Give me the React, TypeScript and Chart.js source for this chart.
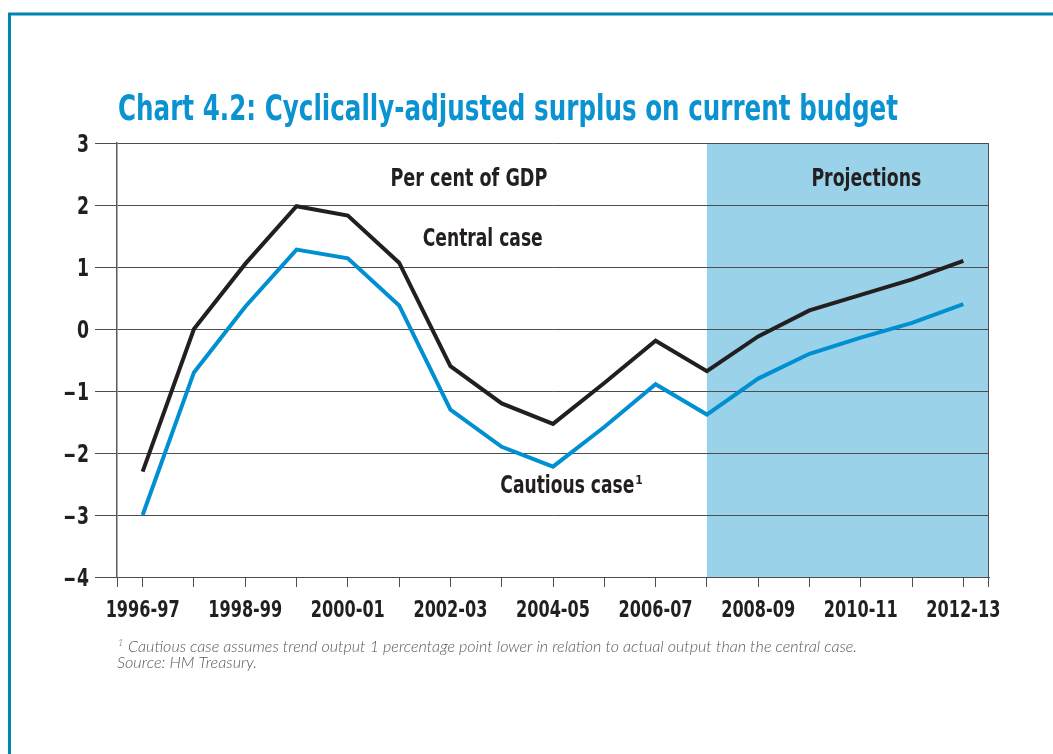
import React, { useEffect, useRef } from "react";
import { Chart, registerables } from "chart.js";

Chart.register(...registerables);

// ---- data ----
const categories = [
  "1996-97", "1997-98", "1998-99", "1999-00", "2000-01", "2001-02", "2002-03",
  "2003-04", "2004-05", "2005-06", "2006-07", "2007-08", "2008-09", "2009-10",
  "2010-11", "2011-12", "2012-13",
];
const centralCase = [-2.3, 0.0, 1.05, 1.98, 1.83, 1.07, -0.6, -1.2, -1.53, -0.87, -0.19, -0.68, -0.12, 0.3, 0.55, 0.8, 1.1];
const cautiousCase = [-3.0, -0.7, 0.36, 1.28, 1.14, 0.38, -1.3, -1.9, -2.22, -1.58, -0.89, -1.38, -0.8, -0.4, -0.14, 0.1, 0.4];
const yMin = -4;
const yMax = 3;
const projectionStart = "2007-08";

const titleText = "Chart 4.2: Cyclically-adjusted surplus on current budget";
const footnoteText = "Cautious case assumes trend output 1 percentage point lower in relation to actual output than the central case.";
const sourceText = "Source: HM Treasury.";

// annotation labels placed in data space (category index, value)
const annotations = [
  { text: "Per cent of GDP", idx: 6.36, val: 2.44, width: 157, sup: false },
  { text: "Central case", idx: 6.63, val: 1.47, width: 120, sup: false },
  { text: "Projections", idx: 14.11, val: 2.44, width: 110, sup: false },
  { text: "Cautious case", idx: 8.28, val: -2.5, width: 134, sup: true },
];

const NARROW = "'Liberation Sans Narrow', 'Arial Narrow', 'DejaVu Sans Condensed', sans-serif";
const INK = "#231f20";
const BLUE_LINE = "#0090d2";
const TITLE_BLUE = "#0b93d1";
const SHADE = "#9ad2ea";
const GRID = "#4d4d4d";
const FRAME = "#0085ae";

function fitText(ctx: CanvasRenderingContext2D, text: string, x: number, y: number, width: number, align: "left" | "center") {
  const w = ctx.measureText(text).width;
  const sx = width / w;
  ctx.save();
  ctx.translate(x, y);
  ctx.scale(sx, 1);
  ctx.textAlign = "left";
  ctx.textBaseline = "alphabetic";
  ctx.fillText(text, align === "center" ? -w / 2 : 0, 0);
  ctx.restore();
}

function scaledText(ctx: CanvasRenderingContext2D, text: string, x: number, y: number, sx: number, align: "left" | "center" | "right") {
  const w = ctx.measureText(text).width;
  ctx.save();
  ctx.translate(x, y);
  ctx.scale(sx, 1);
  ctx.textAlign = "left";
  ctx.textBaseline = "alphabetic";
  const off = align === "center" ? -w / 2 : align === "right" ? -w : 0;
  ctx.fillText(text, off, 0);
  ctx.restore();
  return w * sx;
}

const decorPlugin = {
  id: "decor",
  beforeDraw(chart: any) {
    const { ctx, chartArea, scales } = chart;
    ctx.save();
    ctx.fillStyle = "#ffffff";
    ctx.fillRect(0, 0, chart.width, chart.height);
    const x0 = scales.x.getPixelForValue(categories.indexOf(projectionStart));
    ctx.fillStyle = SHADE;
    ctx.fillRect(x0, chartArea.top, chartArea.right - x0, chartArea.bottom - chartArea.top);
    ctx.restore();
  },
  afterDraw(chart: any) {
    const { ctx, chartArea, scales } = chart;
    ctx.save();
    // frame
    ctx.strokeStyle = FRAME;
    ctx.lineWidth = 3;
    ctx.beginPath();
    ctx.moveTo(9.5, chart.height);
    ctx.lineTo(9.5, 14);
    ctx.lineTo(chart.width, 14);
    ctx.stroke();

    // right border + axis extensions
    ctx.strokeStyle = GRID;
    ctx.lineWidth = 1;
    ctx.beginPath();
    ctx.moveTo(Math.round(chartArea.right) - 0.5, chartArea.top);
    ctx.lineTo(Math.round(chartArea.right) - 0.5, chartArea.bottom + 10);
    ctx.moveTo(Math.round(chartArea.left) + 0.5, chartArea.bottom);
    ctx.lineTo(Math.round(chartArea.left) + 0.5, chartArea.bottom + 10);
    ctx.stroke();

    // axis tick labels (condensed)
    ctx.fillStyle = INK;
    ctx.font = `bold 23px ${NARROW}`;
    const sx = 74 / ctx.measureText("1996-97").width;
    const xs = scales.x;
    xs.ticks.forEach((_t: any, i: number) => {
      if (i % 2 !== 0) return;
      const px = xs.getPixelForTick(i);
      scaledText(ctx, categories[i], px, chartArea.bottom + 40, sx, "center");
    });
    const ys = scales.y;
    ctx.font = `bold 24px ${NARROW}`;
    ys.ticks.forEach((t: any, i: number) => {
      const v = Number(t.value);
      const py = ys.getPixelForTick(i);
      const digits = String(Math.abs(v));
      const right = chartArea.left - 28;
      const dw = scaledText(ctx, digits, right, py + 8.5, 0.8, "right");
      if (v < 0) {
        scaledText(ctx, "\u2013", right - dw - 1, py + 8.5, 1.15, "right");
      }
    });

    // title
    ctx.fillStyle = TITLE_BLUE;
    ctx.font = `bold 35px ${NARROW}`;
    fitText(ctx, titleText, 118, 120, 780, "left");

    // annotations
    ctx.fillStyle = INK;
    ctx.font = `bold 24px ${NARROW}`;
    for (const a of annotations) {
      const cx = scales.x.getPixelForValue(a.idx);
      const cy = scales.y.getPixelForValue(a.val);
      const base = cy + 8.5;
      fitText(ctx, a.text, cx, base, a.width, "center");
      if (a.sup) {
        ctx.font = `bold 12px ${NARROW}`;
        ctx.textAlign = "left";
        ctx.fillText("1", cx + a.width / 2 + 1, base - 9);
        ctx.font = `bold 24px ${NARROW}`;
      }
    }

    // footnote
    ctx.fillStyle = "#5a5a5a";
    ctx.font = `italic 300 9px Lato, 'Open Sans', sans-serif`;
    ctx.textAlign = "left";
    ctx.fillText("1", 118, 646);
    ctx.font = `italic 300 15px Lato, 'Open Sans', sans-serif`;
    fitText(ctx, footnoteText, 128, 652, 729, "left");
    fitText(ctx, sourceText, 117, 668, 140, "left");
    ctx.restore();
  },
};

export default function App() {
  const ref = useRef<HTMLCanvasElement | null>(null);

  useEffect(() => {
    document.body.style.margin = "0";
    document.body.style.background = "#ffffff";
    const canvas = ref.current;
    if (!canvas) return;
    const chart = new Chart(canvas, {
      type: "line",
      data: {
        labels: categories,
        datasets: [
          {
            label: "Cautious case",
            data: cautiousCase,
            borderColor: BLUE_LINE,
            borderWidth: 4,
            pointRadius: 0,
            tension: 0,
            fill: false,
          },
          {
            label: "Central case",
            data: centralCase,
            borderColor: INK,
            borderWidth: 4,
            pointRadius: 0,
            tension: 0,
            fill: false,
          },
        ],
      },
      options: {
        responsive: false,
        animation: false,
        devicePixelRatio: 1,
        layout: { padding: { left: 0, right: 64, top: 143, bottom: 0 } },
        plugins: {
          legend: { display: false },
          tooltip: { enabled: false },
          title: { display: false },
        },
        scales: {
          x: {
            type: "category",
            offset: true,
            grid: {
              offset: false,
              drawOnChartArea: false,
              drawTicks: true,
              tickLength: 10,
              color: GRID,
              lineWidth: 1,
            },
            border: { display: true, color: GRID, width: 1 },
            ticks: {
              autoSkip: false,
              maxRotation: 0,
              minRotation: 0,
              padding: 7,
              color: "rgba(0,0,0,0)",
              font: { family: NARROW, size: 12, weight: "bold" },
              callback: (_v: any, i: number) => (i % 2 === 0 ? categories[i] : ""),
            },
            afterFit: (s: any) => {
              s.height = 177;
            },
          },
          y: {
            min: yMin,
            max: yMax,
            grid: {
              drawOnChartArea: true,
              drawTicks: true,
              tickLength: 22,
              color: GRID,
              lineWidth: 1,
            },
            border: { display: true, color: "#5a5a5a", width: 1.5 },
            ticks: {
              stepSize: 1,
              padding: 6,
              color: "rgba(0,0,0,0)",
              font: { family: NARROW, size: 12, weight: "bold" },
              callback: (v: any) => (Number(v) < 0 ? "\u2013" + Math.abs(Number(v)) : String(v)),
            },
            afterFit: (s: any) => {
              s.width = 117;
            },
          },
        },
      },
      plugins: [decorPlugin],
    });
    return () => chart.destroy();
  }, []);

  return (
    <div style={{ width: 1053, height: 754, position: "relative", overflow: "hidden" }}>
      <canvas ref={ref} width={1053} height={754} style={{ display: "block", width: 1053, height: 754 }} />
    </div>
  );
}
